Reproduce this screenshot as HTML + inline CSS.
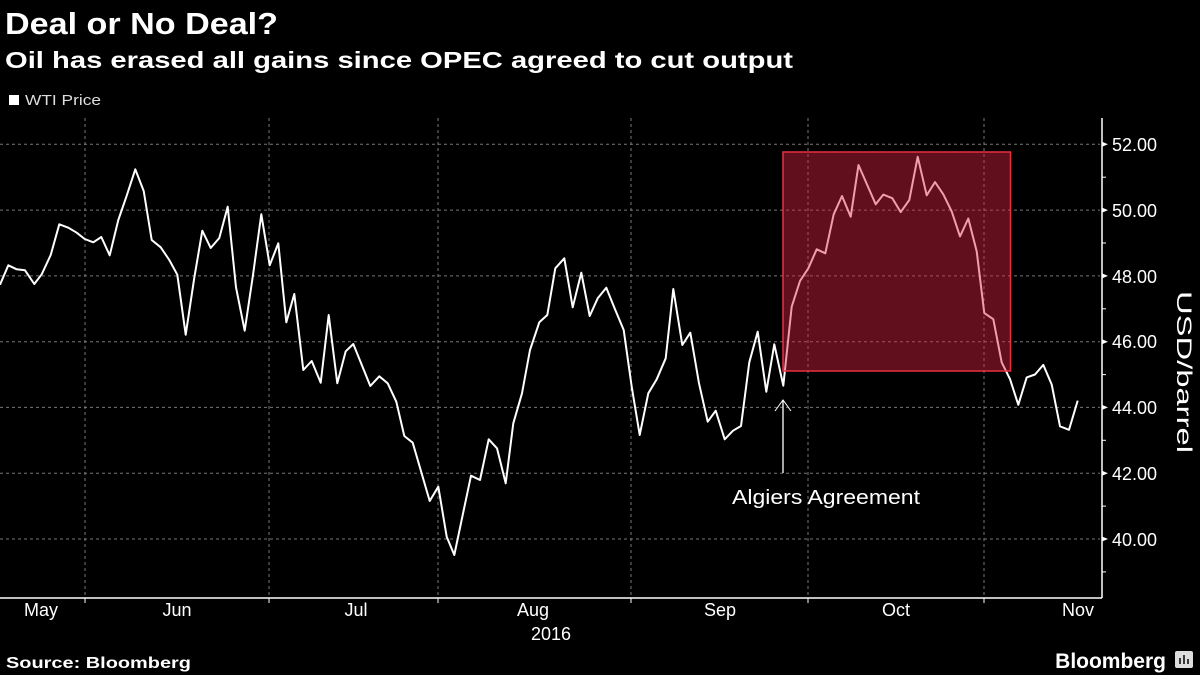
<!DOCTYPE html>
<html><head><meta charset="utf-8"><style>
html,body{margin:0;padding:0;background:#000;}
body{width:1200px;height:675px;overflow:hidden;position:relative;font-family:"Liberation Sans",sans-serif;color:#fff;}
</style></head><body>
<svg width="1200" height="675" xmlns="http://www.w3.org/2000/svg" style="position:absolute;left:0;top:0">
<rect width="1200" height="675" fill="#000"/>
<text x="5" y="34" font-size="31" font-weight="bold" fill="#fff" font-family="Liberation Sans" textLength="273" lengthAdjust="spacingAndGlyphs">Deal or No Deal?</text>
<text x="5" y="68" font-size="23" font-weight="bold" fill="#fff" font-family="Liberation Sans" textLength="788" lengthAdjust="spacingAndGlyphs">Oil has erased all gains since OPEC agreed to cut output</text>
<rect x="9" y="95" width="10" height="10" fill="#fff"/>
<text x="25" y="105" font-size="15" fill="#ddd" textLength="76" lengthAdjust="spacingAndGlyphs">WTI Price</text>
<g stroke="#777" stroke-width="1" stroke-dasharray="3,3">
<line x1="0" x2="1100" y1="144.3" y2="144.3"/><line x1="0" x2="1100" y1="210.1" y2="210.1"/><line x1="0" x2="1100" y1="275.9" y2="275.9"/><line x1="0" x2="1100" y1="341.7" y2="341.7"/><line x1="0" x2="1100" y1="407.4" y2="407.4"/><line x1="0" x2="1100" y1="473.2" y2="473.2"/><line x1="0" x2="1100" y1="539" y2="539"/>
<line x1="85" x2="85" y1="118" y2="598"/><line x1="269" x2="269" y1="118" y2="598"/><line x1="438" x2="438" y1="118" y2="598"/><line x1="631" x2="631" y1="118" y2="598"/><line x1="808" x2="808" y1="118" y2="598"/><line x1="984" x2="984" y1="118" y2="598"/>
</g>
<polyline fill="none" stroke="#fff" stroke-width="2" stroke-linejoin="round" points="0,284.7 8.3,265.3 16.7,269.3 25,270.3 34.3,284 41.7,274.3 50.7,255 59.3,224.3 68.3,227.7 76.7,232.7 84.7,239 93.3,242.3 101.3,237 109.7,255.3 118.3,220 126.7,195.7 135.3,169.3 143.7,191 151.7,240 160.7,247.3 169.3,260 177.3,274.7 185.7,334.7 194.3,277.7 202.3,230.7 210.7,248 219.3,238 227.7,206.7 236,287.3 244.7,330.7 253,275 261.3,214.3 269.7,265.3 278.3,243.3 286.3,322.3 294.3,294 303.3,370 311.7,361 320.7,382.7 328.7,315 337.3,383.3 345.7,351.3 353.3,344 370.3,386 379.3,376.3 387.7,383.3 396.3,401.7 404.3,436 412.7,442.7 429.7,501 438.3,486.7 446.7,536.7 454.3,555 462.7,515 471,475.7 480,480 488.7,439.3 497,448.3 505.7,483.3 513.3,423.3 522,393.3 530,350 539.3,322.3 547.3,315 555.3,268.3 564.3,258.3 572.7,307.3 581.3,272.7 589.7,316 597.7,298.3 606.3,287.7 615,309.3 623.7,330 631.7,386.7 639.7,435 648.3,393.3 656.7,379.3 665.7,358.3 673.3,289 682.3,345 690.3,332.7 699,383.3 707.7,421.7 715.7,410.7 724.7,439.3 733,430.7 741,426 749.3,362.3 757.7,331.7 766.3,391.7 774.3,344.3 783.3,385.7 791.7,306.7 800,281 808.3,268.3 816.7,249.3 825.3,253.3 833.7,214.3 842,196 850.7,216.7 858.5,165 866.8,184 875.7,204.3 883.3,194.6 892.3,198.2 900.7,212.1 909.3,200 917.7,156.8 926.7,195.3 935,182.1 943.3,194.3 951.7,211.4 960,236.4 968.3,218.5 976.7,251.4 984.3,313.1 993.3,319.2 1001.7,362.4 1010,379.1 1018.3,404.8 1026.7,377.4 1035,374.5 1043.3,364.9 1051.7,384.5 1060,426.3 1069,429.8 1077.7,400.6"/>
<rect x="783" y="152" width="227.5" height="219" fill="rgba(220,34,64,0.44)" stroke="#e8303f" stroke-width="1.5"/>
<line x1="783" y1="473" x2="783" y2="400" stroke="#fff" stroke-width="1.3"/>
<polyline points="775,411 783,400 791,411" fill="none" stroke="#fff" stroke-width="1"/>
<text x="732" y="504" font-size="20" fill="#fff" textLength="188" lengthAdjust="spacingAndGlyphs">Algiers Agreement</text>
<line x1="1102" y1="118" x2="1102" y2="598" stroke="#fff" stroke-width="1.5"/>
<line x1="0" y1="598" x2="1102" y2="598" stroke="#fff" stroke-width="1.5"/>
<g stroke="#fff" stroke-width="1">
<line x1="1102" x2="1106" y1="177.2" y2="177.2"/><line x1="1102" x2="1106" y1="243" y2="243"/><line x1="1102" x2="1106" y1="308.8" y2="308.8"/><line x1="1102" x2="1106" y1="374.6" y2="374.6"/><line x1="1102" x2="1106" y1="440.3" y2="440.3"/><line x1="1102" x2="1106" y1="506.1" y2="506.1"/><line x1="1102" x2="1106" y1="571.9" y2="571.9"/>
<line x1="85" x2="85" y1="598" y2="603"/><line x1="269" x2="269" y1="598" y2="603"/><line x1="438" x2="438" y1="598" y2="603"/><line x1="631" x2="631" y1="598" y2="603"/><line x1="808" x2="808" y1="598" y2="603"/><line x1="984" x2="984" y1="598" y2="603"/>
</g>
<g fill="#fff">
<polygon points="1102,141.8 1108,144.3 1102,146.8"/><polygon points="1102,207.6 1108,210.1 1102,212.6"/><polygon points="1102,273.4 1108,275.9 1102,278.4"/><polygon points="1102,339.2 1108,341.7 1102,344.2"/><polygon points="1102,404.9 1108,407.4 1102,409.9"/><polygon points="1102,470.7 1108,473.2 1102,475.7"/><polygon points="1102,536.5 1108,539 1102,541.5"/>
</g>
<g font-size="18" fill="#fff">
<text x="1112" y="151">52.00</text><text x="1112" y="217">50.00</text><text x="1112" y="283">48.00</text><text x="1112" y="348">46.00</text><text x="1112" y="414">44.00</text><text x="1112" y="480">42.00</text><text x="1112" y="546">40.00</text>
</g>
<text transform="translate(1177,291) rotate(90)" font-size="21" fill="#fff" textLength="162" lengthAdjust="spacingAndGlyphs">USD/barrel</text>
<g font-size="18" fill="#fff" text-anchor="middle">
<text x="41" y="616">May</text><text x="177" y="616">Jun</text><text x="356" y="616">Jul</text><text x="533" y="616">Aug</text><text x="720" y="616">Sep</text><text x="896" y="616">Oct</text><text x="1078" y="616">Nov</text>
<text x="551" y="640">2016</text>
</g>
<text x="6" y="668" font-size="16" font-weight="bold" fill="#fff" textLength="185" lengthAdjust="spacingAndGlyphs">Source: Bloomberg</text>
<text x="1166" y="668" font-size="21" font-weight="bold" fill="#fff" text-anchor="end">Bloomberg</text>
<rect x="1175" y="651" width="18" height="17" rx="2" fill="#ddd"/>
<g stroke="#000" stroke-width="1.5"><line x1="1180" y1="664" x2="1180" y2="658"/><line x1="1184" y1="664" x2="1184" y2="655"/><line x1="1188" y1="664" x2="1188" y2="659"/></g>
</svg>
</body></html>
